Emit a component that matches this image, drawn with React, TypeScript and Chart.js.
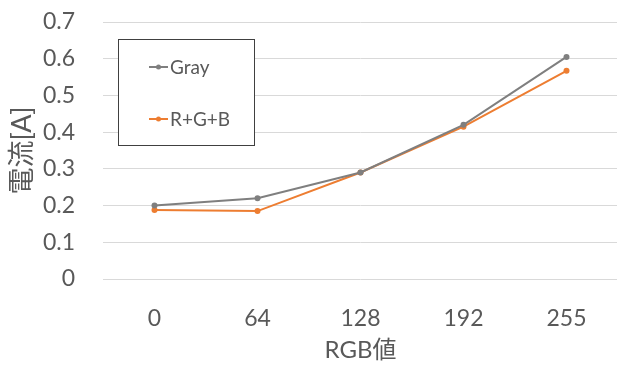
import React, { useEffect, useRef } from "react";
import { Chart, registerables } from "chart.js";

Chart.register(...registerables);

const rgbLevels = ["0", "64", "128", "192", "255"];
const grayCurrent = [0.2, 0.22, 0.29, 0.42, 0.605];
const rgbSumCurrent = [0.188, 0.185, 0.29, 0.415, 0.567];
const yTicks = [0, 0.1, 0.2, 0.3, 0.4, 0.5, 0.6, 0.7];

const FONT = "Lato, 'Noto Sans CJK JP', sans-serif";
const TEXT = "#595959";
const GRAY = "#7f7f7f";
const ORANGE = "#ed7d31";

// Boxed legend drawn inside the plot, upper left
const boxLegend = {
  id: "boxLegend",
  afterDraw(chart: any) {
    const ctx = chart.ctx;
    ctx.save();
    ctx.strokeStyle = "#404040";
    ctx.lineWidth = 1;
    ctx.fillStyle = "#ffffff";
    ctx.fillRect(118.5, 39.5, 136, 106);
    ctx.strokeRect(118.5, 39.5, 136, 106);
    const rows = [67, 119];
    chart.data.datasets.forEach((ds: any, i: number) => {
      const y = rows[i];
      ctx.strokeStyle = ds.borderColor;
      ctx.lineWidth = 2;
      ctx.beginPath();
      ctx.moveTo(149, y);
      ctx.lineTo(168, y);
      ctx.stroke();
      ctx.fillStyle = ds.borderColor;
      ctx.beginPath();
      ctx.arc(158.5, y, 2.5, 0, Math.PI * 2);
      ctx.fill();
      ctx.fillStyle = TEXT;
      ctx.font = `19px ${FONT}`;
      ctx.textBaseline = "middle";
      ctx.textAlign = "left";
      ctx.fillText(ds.label, 170, y + 1);
    });
    ctx.restore();
  },
};

export default function App() {
  const ref = useRef<HTMLCanvasElement>(null);

  useEffect(() => {
    if (!ref.current) return;
    const chart = new Chart(ref.current, {
      type: "line",
      data: {
        labels: rgbLevels,
        datasets: [
          {
            label: "Gray",
            data: grayCurrent,
            borderColor: GRAY,
            backgroundColor: GRAY,
            borderWidth: 2,
            pointRadius: 3,
            pointBorderWidth: 0,
            tension: 0,
          },
          {
            label: "R+G+B",
            data: rgbSumCurrent,
            borderColor: ORANGE,
            backgroundColor: ORANGE,
            borderWidth: 2,
            pointRadius: 3,
            pointBorderWidth: 0,
            tension: 0,
          },
        ],
      },
      options: {
        responsive: false,
        animation: false,
        layout: { padding: { top: 22, right: 0, left: 0, bottom: 0 } },
        plugins: {
          legend: { display: false },
          tooltip: { enabled: false },
        },
        scales: {
          x: {
            offset: true,
            grid: { display: false, drawTicks: false },
            border: { display: false },
            ticks: {
              color: TEXT,
              font: { family: FONT, size: 23 },
              padding: 26,
              maxRotation: 0,
            },
            title: {
              display: true,
              text: "RGB値",
              color: TEXT,
              font: { family: FONT, size: 24 },
              padding: { top: 0, bottom: 0 },
            },
            afterFit(scale: any) {
              scale.height = 86;
              scale.paddingLeft = 0;
              scale.paddingRight = 0;
            },
          },
          y: {
            min: 0,
            max: 0.7,
            afterBuildTicks(scale: any) {
              scale.ticks = yTicks.map((v) => ({ value: v }));
            },
            grid: { color: "#d9d9d9", lineWidth: 1, drawTicks: false },
            border: { display: false },
            ticks: {
              color: TEXT,
              font: { family: FONT, size: 23 },
              padding: 28,
              callback: (v: any) => String(Math.round(Number(v) * 10) / 10),
            },
            title: {
              display: true,
              text: "電流[A]",
              color: TEXT,
              font: { family: FONT, size: 27 },
              padding: { top: 6, bottom: 0 },
            },
            afterFit(scale: any) {
              scale.width = 103;
              // label gap should not push the plot area down
              scale.paddingTop = 0;
              scale.paddingBottom = 0;
            },
          },
        },
      },
      plugins: [boxLegend],
    });
    return () => chart.destroy();
  }, []);

  // canvas is a little wider than the frame so the point overflow margin falls outside it
  return (
    <div
      style={{
        position: "fixed",
        left: 0,
        top: 0,
        width: 617,
        height: 365,
        overflow: "hidden",
        background: "#fff",
      }}
    >
      <canvas ref={ref} width={622} height={365} />
    </div>
  );
}
